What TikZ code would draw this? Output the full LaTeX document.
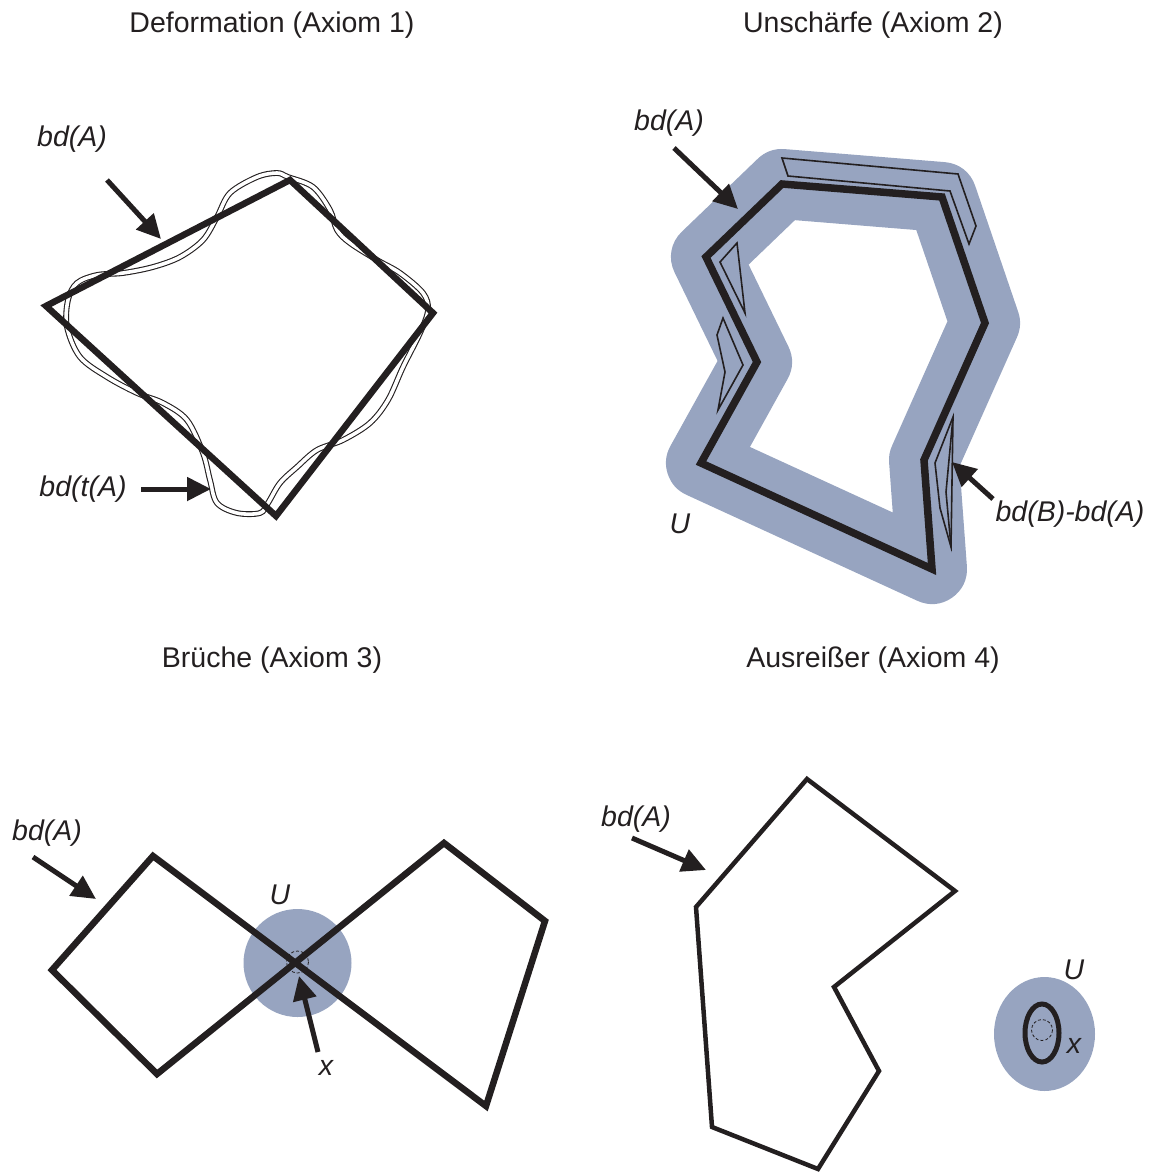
\documentclass[tikz,border=0pt]{standalone}
\usepackage{fontspec}
\setmainfont{Liberation Sans}
\usetikzlibrary{arrows.meta}
\definecolor{ublue}{HTML}{97A4C0}
\definecolor{ink}{HTML}{231F20}
\begin{document}
\begin{tikzpicture}[x=1pt,y=-1pt,
  lbl/.style={font=\fontsize{28.5}{32}\selectfont\itshape, text=ink, inner sep=0pt},
  ttl/.style={font=\fontsize{28.5}{32}\selectfont, text=ink, inner sep=0pt},
  arr/.style={draw=ink, line width=5pt, -{Triangle[length=24pt,width=23pt]}},
  thickA/.style={draw=ink, line width=6.5pt, line join=miter},
  sliver/.style={draw=ink, line width=1.6pt, line join=miter},
  wavy/.style={draw=ink, line width=1.1pt, double=white, double distance=3.6pt},
  band/.style={draw=ublue, line width=70pt, line join=round},
  dashc/.style={draw=ink, line width=0.8pt, dash pattern=on 3pt off 2pt}]
\useasboundingbox (0,0) rectangle (1157,1173);

% ---------- titles
\node[ttl] (t1) at (272,25) {Deformation (Axiom 1)};
\node[ttl] (t2) at (873,25) {Unschärfe (Axiom 2)};
\node[ttl] (t3) at (272,660) {Brüche (Axiom 3)};
\node[ttl] (t4) at (873,660) {Ausreißer (Axiom 4)};

% ---------- panel 1: deformation
\draw[wavy] plot[smooth cycle, tension=0.55] coordinates {
 (288,177) (313,187) (330,210) (337,230) (350,243) (377,260) (400,273)
 (423,293) (428,310) (420,333) (403,367) (388,400) (370,423) (343,440)
 (317,450) (297,467) (280,483) (268,503) (260,513) (237,513) (217,503)
 (210,480) (203,453) (187,420) (163,403) (137,393) (107,377) (80,357)
 (67,327) (68,300) (77,283) (97,275) (123,273) (153,267) (180,257)
 (203,240) (217,217) (230,193) (257,177) (277,173)};
\coordinate (p1a) at (46,306);
\coordinate (p1b) at (290,180);
\coordinate (p1c) at (433,313);
\coordinate (p1d) at (276,516);
\draw[thickA] (p1a) -- (p1b) -- (p1c) -- (p1d) -- cycle;
\node[lbl] (l1a) at (72,139) {bd(A)};
\coordinate (a1s) at (107,180);
\coordinate (a1e) at (161,239);
\draw[arr] (a1s) -- (a1e);
\node[lbl] (l1b) at (83,489) {bd(t(A)};
\coordinate (a2s) at (141,489);
\coordinate (a2e) at (211,489);
\draw[arr] (a2s) -- (a2e);

% ---------- panel 2: blur
\coordinate (q1) at (782,184);
\coordinate (q2) at (942,197);
\coordinate (q3) at (985,323);
\coordinate (q4) at (924,460);
\coordinate (q5) at (932,569);
\coordinate (q6) at (701,463);
\coordinate (q7) at (757,362);
\coordinate (q8) at (706,257);
\draw[band] (q1) -- (q2) -- (q3) -- (q4) -- (q5) -- (q6) -- (q7) -- (q8) -- cycle;
\draw[draw=ink, line width=7.5pt, line join=miter] (q1) -- (q2) -- (q3) -- (q4) -- (q5) -- (q6) -- (q7) -- (q8) -- cycle;
% slivers
\draw[sliver] (782,158) -- (958,174) -- (976,226) -- (969,244) -- (950,191) -- (788,176) -- cycle;
\draw[sliver] (720,262) -- (737,243) -- (745,313) -- cycle;
\draw[sliver] (723,318) -- (743,365) -- (718,410) -- (725,372) -- (717,335) -- cycle;
\draw[sliver] (953,417) -- (935,463) -- (940,508) -- (951,547) -- cycle;
\draw[sliver] (953,417) -- (946,492) -- (951,547);
\node[lbl] (l2a) at (669,123) {bd(A)};
\coordinate (a3s) at (674,148);
\coordinate (a3e) at (738,209);
\draw[arr] (a3s) -- (a3e);
\node[lbl] (l2b) at (1070,514) {bd(B)-bd(A)};
\coordinate (a4s) at (993,499);
\coordinate (a4e) at (952,462);
\draw[arr] (a4s) -- (a4e);
\node[lbl] (l2u) at (680,524) {U};

% ---------- panel 3: breaks
\fill[ublue] (297.5,963) circle[radius=54];
\coordinate (r1) at (52,970);
\coordinate (r2) at (153,856);
\coordinate (r3) at (486,1106);
\coordinate (r4) at (545,921);
\coordinate (r5) at (444,843);
\coordinate (r6) at (157,1074);
\draw[thickA] (r1) -- (r2) -- (r3) -- (r4) -- (r5) -- (r6) -- cycle;
\draw[dashc] (297.5,962) circle[radius=11];
\node[lbl] (l3a) at (47,833) {bd(A)};
\coordinate (a5s) at (33,857);
\coordinate (a5e) at (96,899);
\draw[arr] (a5s) -- (a5e);
\node[lbl] (l3u) at (280,895) {U};
\node[lbl] (l3x) at (326,1068) {x};
\coordinate (a6s) at (318,1052);
\coordinate (a6e) at (299,976);
\draw[arr] (a6s) -- (a6e);

% ---------- panel 4: outliers
\coordinate (s1) at (807,779);
\coordinate (s2) at (955,891);
\coordinate (s3) at (834,987);
\coordinate (s4) at (879,1071);
\coordinate (s5) at (818,1169);
\coordinate (s6) at (712,1127);
\coordinate (s7) at (696,907);
\draw[draw=ink, line width=4.5pt, line join=miter] (s1) -- (s2) -- (s3) -- (s4) -- (s5) -- (s6) -- (s7) -- cycle;
\node[lbl] (l4a) at (636,819) {bd(A)};
\coordinate (a7s) at (632,838);
\coordinate (a7e) at (706,870);
\draw[arr] (a7s) -- (a7e);
\fill[ublue] (1044.5,1034) ellipse[x radius=50.5, y radius=57];
\draw[draw=ink, line width=5pt] (1042,1033) ellipse[x radius=17, y radius=29];
\draw[dashc] (1042,1030) circle[radius=10.5];
\node[lbl] (l4u) at (1074,970) {U};
\node[lbl] (l4x) at (1074,1046) {x};
\end{tikzpicture}
\end{document}
